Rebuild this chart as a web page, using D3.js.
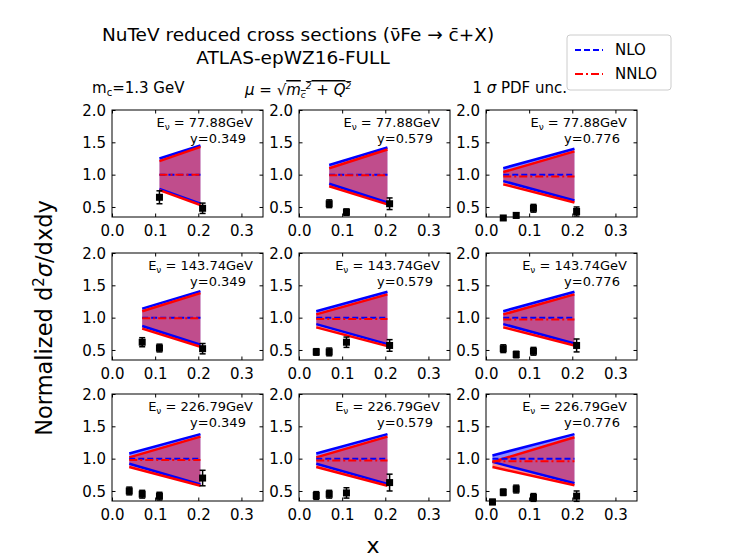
<!DOCTYPE html>
<html lang="en">
<head>
  <meta charset="UTF-8">
  <title>NuTeV</title>
  <style>
    body { margin: 0; background: #fff; }
    text { font-family: "DejaVu Sans", sans-serif; }
  </style>
</head>
<body>
  <svg id="chart" width="747" height="560"></svg>
  <script src="https://cdnjs.cloudflare.com/ajax/libs/d3/7.8.5/d3.min.js"></script>
  <script>
    const energies = ['77.88', '143.74', '226.79']
    const yValues = ['0.349', '0.579', '0.776']
    const xTicks = [0.0, 0.1, 0.2, 0.3]
    const yTicks = [0.5, 1.0, 1.5, 2.0]

    // data points per panel (row-major): x, value, error
    const dataX = [
      [0.11, 0.21], [0.07, 0.11, 0.21], [0.04, 0.07, 0.11, 0.21],
      [0.07, 0.11, 0.21], [0.04, 0.07, 0.11, 0.21], [0.04, 0.07, 0.11, 0.21],
      [0.04, 0.07, 0.11, 0.21], [0.04, 0.07, 0.11, 0.21], [0.015, 0.04, 0.07, 0.11, 0.21]
    ]
    const dataY = [
      [0.65, 0.48], [0.55, 0.42, 0.55], [0.33, 0.37, 0.48, 0.43],
      [0.62, 0.53, 0.52], [0.47, 0.47, 0.62, 0.57], [0.52, 0.43, 0.48, 0.57],
      [0.50, 0.45, 0.42, 0.70], [0.43, 0.45, 0.47, 0.63], [0.33, 0.48, 0.53, 0.40, 0.42]
    ]
    const dataErr = [
      [0.10, 0.08], [0.06, 0.05, 0.09], [0.03, 0.04, 0.06, 0.07],
      [0.07, 0.06, 0.08], [0.05, 0.06, 0.08, 0.09], [0.06, 0.05, 0.06, 0.10],
      [0.06, 0.06, 0.06, 0.12], [0.06, 0.06, 0.08, 0.13], [0.04, 0.05, 0.06, 0.06, 0.08]
    ]
    // theory bands: x start per panel, NLO / NNLO upper and lower at start and at x=0.205
    const bandX0 = [0.11, 0.07, 0.04, 0.07, 0.04, 0.04, 0.04, 0.04, 0.015]
    const nloUp = [[1.25, 1.45], [1.15, 1.42], [1.10, 1.40], [1.14, 1.41], [1.10, 1.40], [1.10, 1.40], [1.08, 1.38], [1.08, 1.38], [1.05, 1.38]]
    const nloLo = [[0.78, 0.55], [0.86, 0.57], [0.90, 0.60], [0.87, 0.58], [0.90, 0.59], [0.90, 0.60], [0.92, 0.60], [0.92, 0.61], [0.95, 0.62]]
    const nnloUp = [[1.21, 1.43], [1.10, 1.39], [1.04, 1.36], [1.10, 1.38], [1.05, 1.36], [1.05, 1.36], [1.02, 1.34], [1.02, 1.34], [0.95, 1.33]]
    const nnloLo = [[0.76, 0.53], [0.82, 0.54], [0.85, 0.57], [0.83, 0.55], [0.85, 0.56], [0.85, 0.57], [0.87, 0.58], [0.87, 0.58], [0.87, 0.59]]
    const nnloMid = [1.0, 0.99, 0.97, 0.99, 0.98, 0.97, 0.98, 0.97, 0.96]
    const bandX1 = 0.205

    const svg = d3.select('#chart')
    const colX = [112, 299, 486]
    const rowY = [110, 253, 394]
    const pw = 151, ph = 107

    for (let i = 0; i < 9; i++) {
      const r = Math.floor(i / 3), c = i % 3
      const g = svg.append('g').attr('transform', `translate(${colX[c]},${rowY[r]})`)
      const x = d3.scaleLinear().domain([0, 0.35]).range([0, pw])
      const y = d3.scaleLinear().domain([0.345, 2.0]).range([ph, 0])
      const xs = [bandX0[i], bandX1]

      const bands = [[nloUp, nloLo, 'blue'], [nnloUp, nnloLo, 'red']]
        .map(([up, lo, color]) => ({ color, pts: xs.map((v, k) => ({ x: v, u: up[i][k], l: lo[i][k] })) }))
      // fills first, then edges
      bands.forEach(b => {
        g.append('path').datum(b.pts)
          .attr('d', d3.area().x(d => x(d.x)).y0(d => y(d.l)).y1(d => y(d.u)))
          .attr('fill', b.color).attr('opacity', 0.45)
      })
      bands.forEach(b => {
        for (const key of ['u', 'l']) {
          g.append('path').datum(b.pts)
            .attr('d', d3.line().x(d => x(d.x)).y(d => y(d[key])))
            .attr('stroke', b.color).attr('stroke-width', 2.5).attr('fill', 'none')
        }
      })
      g.append('line').attr('x1', x(xs[0])).attr('x2', x(xs[1]))
        .attr('y1', y(1)).attr('y2', y(1))
        .attr('stroke', 'blue').attr('stroke-width', 2).attr('stroke-dasharray', '6,3')
      g.append('line').attr('x1', x(xs[0])).attr('x2', x(xs[1]))
        .attr('y1', y(nnloMid[i])).attr('y2', y(nnloMid[i]))
        .attr('stroke', 'red').attr('stroke-width', 2).attr('stroke-dasharray', '8,3,2,3')

      const pts = dataX[i].map((v, k) => ({ x: v, y: dataY[i][k], e: dataErr[i][k] }))
      const pg = g.selectAll('.pt').data(pts).enter().append('g')
      pg.append('line').attr('x1', d => x(d.x)).attr('x2', d => x(d.x))
        .attr('y1', d => y(d.y - d.e)).attr('y2', d => y(d.y + d.e))
        .attr('stroke', 'black').attr('stroke-width', 1.5)
      for (const s of [-1, 1]) {
        pg.append('line').attr('x1', d => x(d.x) - 3).attr('x2', d => x(d.x) + 3)
          .attr('y1', d => y(d.y + s * d.e)).attr('y2', d => y(d.y + s * d.e))
          .attr('stroke', 'black').attr('stroke-width', 1.5)
      }
      pg.append('rect').attr('x', d => x(d.x) - 3.5).attr('y', d => y(d.y) - 3.5)
        .attr('width', 7).attr('height', 7).attr('fill', 'black')

      g.append('rect').attr('width', pw).attr('height', ph)
        .attr('fill', 'none').attr('stroke', 'black').attr('stroke-width', 1)

      const xa = g.append('g').attr('transform', `translate(0,${ph})`)
        .call(d3.axisBottom(x).tickValues(xTicks).tickFormat(d3.format('.1f')).tickSizeInner(-3.5).tickSizeOuter(0))
      const ya = g.append('g')
        .call(d3.axisLeft(y).tickValues(yTicks).tickFormat(d3.format('.1f')).tickSizeInner(-3.5).tickSizeOuter(0))
      g.append('g').attr('transform', `translate(${pw},0)`)
        .call(d3.axisRight(y).tickValues(yTicks).tickFormat('').tickSizeInner(-3.5).tickSizeOuter(0))
      g.append('g')
        .call(d3.axisTop(x).tickValues(xTicks).tickFormat('').tickSizeInner(-3.5).tickSizeOuter(0))
      g.selectAll('.domain').remove()
      xa.selectAll('text').attr('font-size', 15).attr('dy', '1.0em').attr('y', 4)
      ya.selectAll('text').attr('font-size', 15).attr('x', -6).attr('dy', '0.35em')

      g.append('text').attr('x', pw - 10).attr('y', 17).attr('text-anchor', 'end').attr('font-size', 13)
        .html(`E<tspan dy="3" font-size="9">ν</tspan><tspan dy="-3"> = ${energies[r]}GeV</tspan>`)
      g.append('text').attr('x', pw - 45).attr('y', 33).attr('text-anchor', 'middle').attr('font-size', 13)
        .text(`y=${yValues[c]}`)
    }

    svg.append('text').attr('x', 298).attr('y', 41).attr('text-anchor', 'middle').attr('font-size', 18.5)
      .text('NuTeV reduced cross sections (ν̄Fe → c̄+X)')
    svg.append('text').attr('x', 293).attr('y', 64).attr('text-anchor', 'middle').attr('font-size', 18.5)
      .text('ATLAS-epWZ16-FULL')
    svg.append('text').attr('x', 92).attr('y', 93).attr('font-size', 15)
      .html('m<tspan dy="3" font-size="10">c</tspan><tspan dy="-3">=1.3 GeV</tspan>')
    svg.append('text').attr('x', 245).attr('y', 95).attr('font-size', 15).attr('font-style', 'italic')
      .html('μ = <tspan font-style="normal">√</tspan><tspan text-decoration="overline">m<tspan dy="3" font-size="9">c</tspan><tspan dy="-9" font-size="9">2</tspan><tspan dy="6"> + Q</tspan><tspan dy="-6" font-size="9">2</tspan></tspan>')
    svg.append('text').attr('x', 567).attr('y', 93).attr('text-anchor', 'end').attr('font-size', 15)
      .html('1 <tspan font-style="italic">σ</tspan> PDF unc.')

    svg.append('text').attr('transform', 'translate(52,318) rotate(-90)').attr('text-anchor', 'middle')
      .attr('font-size', 22.5).html('Normalized d<tspan dy="-8" font-size="15">2</tspan><tspan dy="8" font-style="italic">σ</tspan>/dxdy')
    svg.append('text').attr('x', 373).attr('y', 553).attr('text-anchor', 'middle').attr('font-size', 22).text('x')

    const leg = svg.append('g').attr('transform', 'translate(567,35)')
    leg.append('rect').attr('width', 104).attr('height', 55).attr('rx', 3)
      .attr('fill', 'white').attr('stroke', '#ccc')
    leg.append('line').attr('x1', 8).attr('x2', 36).attr('y1', 15).attr('y2', 15)
      .attr('stroke', 'blue').attr('stroke-width', 2).attr('stroke-dasharray', '6,3')
    leg.append('line').attr('x1', 8).attr('x2', 36).attr('y1', 39).attr('y2', 39)
      .attr('stroke', 'red').attr('stroke-width', 2).attr('stroke-dasharray', '8,3,2,3')
    leg.append('text').attr('x', 48).attr('y', 20).attr('font-size', 15).text('NLO')
    leg.append('text').attr('x', 48).attr('y', 44).attr('font-size', 15).text('NNLO')
  </script>
</body>
</html>
